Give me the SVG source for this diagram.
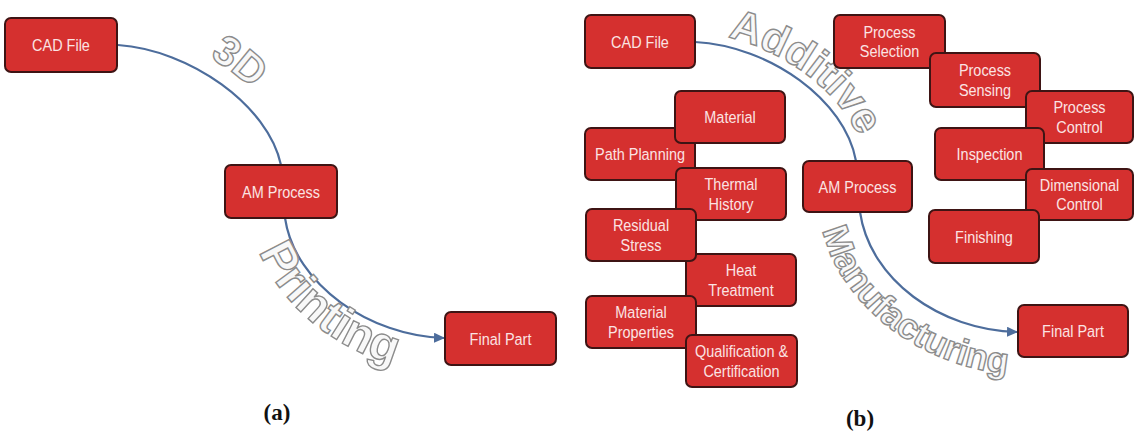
<svg xmlns="http://www.w3.org/2000/svg" width="1134" height="438" viewBox="0 0 1134 438">
<style>
.box rect { fill:#d5302f; stroke:#3e1414; stroke-width:2; }
.box text { font-family:"Liberation Sans",Arial,sans-serif; font-size:17px; fill:#fbe3e3; text-anchor:middle; }
.wa { font-family:"Liberation Sans",Arial,sans-serif; font-weight:bold; fill:#f8f8f8; stroke:#8c8c8c; stroke-width:1.4; }
.conn { fill:none; stroke:#4d6d9c; stroke-width:2.2; }
.cap { font-family:"Liberation Serif","Times New Roman",serif; font-weight:bold; font-size:23px; fill:#111; text-anchor:middle; }
</style>
<defs>
<marker id="arr" markerUnits="userSpaceOnUse" markerWidth="11" markerHeight="10" refX="10" refY="5" orient="auto">
<path d="M0,0 L11,5 L0,10 z" fill="#4d6d9c"/>
</marker>
<path id="tp3d" d="M118,27 C195,30 285,100 299,162"/>
<path id="tpPrint" d="M251,218 C261,303 354,370 443,372"/>
<path id="tpAdd" d="M697,33 C774,37 854,96 865,158"/>
<path id="tpManu" d="M820,214 C830,303 926,372 1018,374"/>
</defs>
<rect width="1134" height="438" fill="#ffffff"/>

<g id="connectors">
<path class="conn" d="M118,45 C190,50 268,105 281,165"/>
<path class="conn" d="M285,218 C295,285 370,336 444,338" marker-end="url(#arr)"/>
<path class="conn" d="M695,42 C770,46 845,100 856,161"/>
<path class="conn" d="M860,212 C870,280 940,330 1017,332" marker-end="url(#arr)"/>
</g>

<g id="wordart">
<text class="wa" font-size="42"><textPath href="#tp3d" startOffset="52%" text-anchor="middle">3D</textPath></text>
<text class="wa" font-size="48"><textPath href="#tpPrint" startOffset="47%" text-anchor="middle">Printing</textPath></text>
<text class="wa" font-size="43"><textPath href="#tpAdd" startOffset="52%" text-anchor="middle">Additive</textPath></text>
<text class="wa" font-size="36"><textPath href="#tpManu" startOffset="51%" text-anchor="middle">Manufacturing</textPath></text>
</g>

<g id="a-cad" class="box"><rect x="5" y="18" width="112" height="54" rx="6"/><text transform="translate(61,51) scale(0.85,1)">CAD File</text></g>
<g id="a-am" class="box"><rect x="225" y="165" width="112" height="53" rx="6"/><text transform="translate(281,197.5) scale(0.85,1)">AM Process</text></g>
<g id="a-final" class="box"><rect x="445" y="312" width="111" height="53" rx="6"/><text transform="translate(500.5,344.5) scale(0.85,1)">Final Part</text></g>

<g id="b-cad" class="box"><rect x="585" y="15" width="110" height="53" rx="6"/><text transform="translate(640,47.5) scale(0.85,1)">CAD File</text></g>
<g id="b-sel" class="box"><rect x="834" y="15" width="111" height="53" rx="6"/><text transform="translate(889.5,37.5) scale(0.85,1)"><tspan x="0">Process</tspan><tspan x="0" dy="20">Selection</tspan></text></g>
<g id="b-sens" class="box"><rect x="930" y="53" width="110" height="54" rx="6"/><text transform="translate(985,76) scale(0.85,1)"><tspan x="0">Process</tspan><tspan x="0" dy="20">Sensing</tspan></text></g>
<g id="b-ctrl" class="box"><rect x="1026" y="91" width="107" height="52" rx="6"/><text transform="translate(1079.5,113) scale(0.85,1)"><tspan x="0">Process</tspan><tspan x="0" dy="20">Control</tspan></text></g>
<g id="b-path" class="box"><rect x="585" y="128" width="110" height="52" rx="6"/><text transform="translate(640,160) scale(0.85,1)">Path Planning</text></g>
<g id="b-mat" class="box"><rect x="675" y="91" width="110" height="52" rx="6"/><text transform="translate(730,123) scale(0.85,1)">Material</text></g>
<g id="b-insp" class="box"><rect x="935" y="128" width="109" height="52" rx="6"/><text transform="translate(989.5,160) scale(0.85,1)">Inspection</text></g>
<g id="b-am" class="box"><rect x="803" y="161" width="109" height="51" rx="6"/><text transform="translate(857.5,192.5) scale(0.85,1)">AM Process</text></g>
<g id="b-therm" class="box"><rect x="676" y="168" width="110" height="52" rx="6"/><text transform="translate(731,190) scale(0.85,1)"><tspan x="0">Thermal</tspan><tspan x="0" dy="20">History</tspan></text></g>
<g id="b-dim" class="box"><rect x="1026" y="169" width="107" height="51" rx="6"/><text transform="translate(1079.5,190.5) scale(0.85,1)"><tspan x="0">Dimensional</tspan><tspan x="0" dy="20">Control</tspan></text></g>
<g id="b-heat" class="box"><rect x="686" y="254" width="110" height="52" rx="6"/><text transform="translate(741,276) scale(0.85,1)"><tspan x="0">Heat</tspan><tspan x="0" dy="20">Treatment</tspan></text></g>
<g id="b-resid" class="box"><rect x="586" y="209" width="110" height="52" rx="6"/><text transform="translate(641,231) scale(0.85,1)"><tspan x="0">Residual</tspan><tspan x="0" dy="20">Stress</tspan></text></g>
<g id="b-fin" class="box"><rect x="929" y="210" width="110" height="53" rx="6"/><text transform="translate(984,242.5) scale(0.85,1)">Finishing</text></g>
<g id="b-props" class="box"><rect x="586" y="296" width="110" height="52" rx="6"/><text transform="translate(641,318) scale(0.85,1)"><tspan x="0">Material</tspan><tspan x="0" dy="20">Properties</tspan></text></g>
<g id="b-qual" class="box"><rect x="686" y="335" width="111" height="52" rx="6"/><text transform="translate(741.5,357) scale(0.85,1)"><tspan x="0">Qualification &amp;</tspan><tspan x="0" dy="20">Certification</tspan></text></g>
<g id="b-final" class="box"><rect x="1018" y="305" width="110" height="52" rx="6"/><text transform="translate(1073,337) scale(0.85,1)">Final Part</text></g>

<text class="cap" x="277" y="420">(a)</text>
<text class="cap" x="860" y="426">(b)</text>
</svg>
